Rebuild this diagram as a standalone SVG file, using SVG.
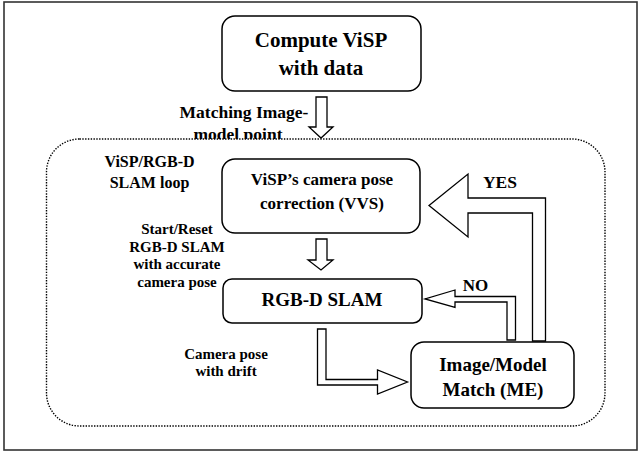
<svg xmlns="http://www.w3.org/2000/svg" width="644" height="462" viewBox="0 0 644 462">
<style>
  .frame { fill: #ffffff; stroke: #333333; stroke-width: 1.6; }
  .loop { fill: #ffffff; stroke: #000000; stroke-width: 1.4; stroke-dasharray: 1.4 1.4; }
  .box { fill: #ffffff; stroke: #000000; stroke-width: 1.5; }
  .arrow { fill: #ffffff; stroke: #000000; stroke-width: 1.3; stroke-linejoin: miter; }
  text { font-family: "Liberation Serif", "Times New Roman", serif; font-weight: bold; fill: #000000; text-anchor: middle; }
  .big { font-size: 21px; }
  .mid { font-size: 19px; }
  .med { font-size: 17px; }
  .lbl { font-size: 15px; }
</style>
<rect class="frame" x="4" y="2" width="633" height="448"/>

<g id="node-compute">
  <rect class="box" x="222" y="16" width="199" height="75" rx="13"/>
  <text class="big" x="321" y="47">Compute ViSP</text>
  <text class="big" x="321" y="75">with data</text>
</g>

<g id="label-matching">
  <text class="med" x="244" y="118" style="font-size:17.5px">Matching Image-</text>
  <text class="med" x="238" y="140" style="font-size:17.5px">model point</text>
</g>

<g id="connector-top">
  <polygon class="arrow" points="316,97 327,97 327,127 333,127 321,138 309,127 316,127"/>
</g>

<g id="group-loop">
  <rect class="loop" x="46.5" y="139" width="558.5" height="287" rx="33"/>
  <text style="font-size:16px" x="149.5" y="167">ViSP/RGB-D</text>
  <text style="font-size:16px" x="149.5" y="188">SLAM loop</text>
</g>

<g id="node-vvs">
  <rect class="box" x="222" y="159" width="198" height="74" rx="13"/>
  <text class="med" x="322" y="185">ViSP’s camera pose</text>
  <text class="med" x="322" y="209">correction (VVS)</text>
</g>

<g id="node-rgbd">
  <rect class="box" x="223" y="279" width="199" height="44" rx="9"/>
  <text class="mid" x="322" y="306">RGB-D SLAM</text>
</g>

<g id="node-match">
  <rect class="box" x="411" y="342" width="163" height="66" rx="13"/>
  <text class="mid" x="493" y="371">Image/Model</text>
  <text class="mid" x="493" y="396">Match (ME)</text>
</g>

<g id="connectors">
  <polygon class="arrow" points="316,239 327,239 327,260 333,260 321,270 308,260 316,260"/>
  <polygon class="arrow" points="317.5,329 326,329 326,379.5 377.5,379.5 377.5,370 407.5,382 377.5,394 377.5,385 317.5,385"/>
  <polygon class="arrow" points="515.5,340 507,340 507,302 455,302 455,307.5 425,299 455,290 455,296.5 515.5,296.5"/>
  <polygon class="arrow" points="545.5,341 532.5,341 532.5,213 468,213 468,237 429,205.5 468,174 468,198 545.5,198"/>
  <text class="lbl" x="177" y="234">Start/Reset</text>
  <text class="lbl" x="177" y="252">RGB-D SLAM</text>
  <text class="lbl" x="177" y="269">with accurate</text>
  <text class="lbl" x="177" y="287">camera pose</text>
  <text class="lbl" x="226" y="359">Camera pose</text>
  <text class="lbl" x="226" y="376">with drift</text>
  <text style="font-size:17.5px" x="500" y="188">YES</text>
  <text class="med" x="475.5" y="291">NO</text>
</g>
</svg>
